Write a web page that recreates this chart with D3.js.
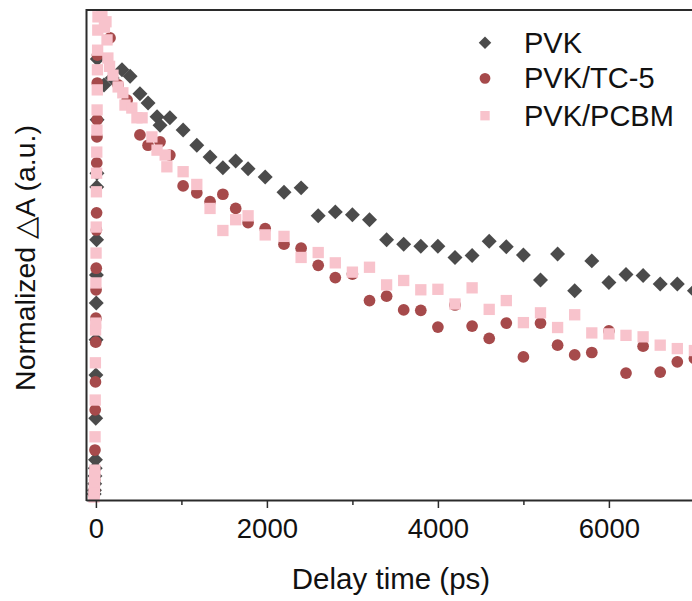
<!DOCTYPE html>
<html>
<head>
<meta charset="utf-8">
<script src="https://cdn.jsdelivr.net/npm/d3@7"></script>
<style>
  html, body { margin: 0; padding: 0; background: #fff; }
  svg { display: block; font-family: "Liberation Sans", Arial, sans-serif; }
</style>
</head>
<body>
<svg id="chart" width="692" height="601"></svg>
<script>
// ---- data ----
const seriesNames = ["PVK", "PVK/TC-5", "PVK/PCBM"];
const xTicks = [0, 2000, 4000, 6000];
const xMinorTicks = [1000, 3000, 5000];

const pvkTime = [-20,-17,-14,-11,-8,-5,-2,0,2,4,6,8,10,12,14,16,
  95,190,305,400,515,610,715,750,865,1020,1180,1335,1485,1635,1780,1980,
  2200,2400,2600,2800,3000,3200,3400,3600,3800,4000,4200,4400,4600,4800,5000,
  5200,5400,5600,5800,6000,6200,6400,6600,6800,7000];
const pvkValue = [0.012,0.020,0.033,0.049,0.065,0.082,0.167,0.255,0.327,0.402,0.459,0.531,0.639,0.667,0.776,0.900,
  0.847,0.861,0.878,0.865,0.829,0.810,0.782,0.765,0.780,0.755,0.724,0.700,0.678,0.692,0.676,0.659,
  0.628,0.637,0.580,0.588,0.582,0.572,0.531,0.522,0.518,0.518,0.495,0.499,0.528,0.517,0.500,
  0.449,0.502,0.427,0.488,0.444,0.460,0.458,0.441,0.441,0.427];

const tc5Time = [-20,-17,-14,-11,-8,-5,-2,0,2,4,6,8,10,12,14,16,18,
  165,260,365,515,610,750,865,1020,1180,1335,1485,1635,1780,1980,
  2200,2400,2600,2800,3000,3200,3400,3600,3800,4000,4200,4400,4600,4800,5000,
  5200,5400,5600,5800,6000,6200,6400,6600,6800,7000];
const tc5Value = [0.010,0.020,0.041,0.102,0.184,0.241,0.322,0.371,0.429,0.473,0.551,0.586,0.688,0.741,0.776,0.851,0.908,
  0.943,0.847,0.816,0.745,0.724,0.731,0.704,0.641,0.627,0.609,0.624,0.595,0.566,0.554,
  0.522,0.514,0.479,0.454,0.461,0.407,0.416,0.388,0.387,0.353,0.398,0.355,0.330,0.361,0.292,
  0.361,0.316,0.296,0.301,0.345,0.259,0.314,0.261,0.282,0.289];

const pcbmTime = [-22,-20,-18,-16,-14,-12,-10,-8,-6,-4,-2,0,2,4,6,8,10,12,14,16,18,20,22,24,
  70,100,118,130,140,160,200,260,315,340,420,480,540,655,715,810,830,1020,1180,1335,1485,1635,1780,1980,
  2200,2400,2600,2800,3000,3200,3400,3600,3800,4000,4200,4400,4600,4800,5000,
  5200,5400,5600,5800,6000,6200,6400,6600,6800,7000];
const pcbmValue = [0.006,0.014,0.024,0.037,0.051,0.061,0.129,0.204,0.280,0.347,0.361,0.443,0.504,0.557,0.629,0.667,0.710,0.755,0.796,0.837,0.878,0.918,0.959,0.986,
  0.990,0.965,0.976,0.939,0.902,0.885,0.867,0.843,0.831,0.806,0.800,0.780,0.780,0.741,0.714,0.704,0.680,0.670,0.644,0.595,0.550,0.572,0.580,0.541,
  0.538,0.495,0.505,0.484,0.465,0.475,0.439,0.448,0.429,0.430,0.400,0.433,0.389,0.407,0.362,
  0.382,0.352,0.378,0.341,0.339,0.336,0.333,0.316,0.309,0.305];

// ---- layout ----
const svg = d3.select("#chart");
const mLeft = 86.5, mRight = 694.4, mTop = 10, mBottom = 500;
const x = d3.scaleLinear().domain([-110, 7000]).range([mLeft, mRight]);
const y = d3.scaleLinear().domain([0, 1]).range([mBottom, mTop]);

const colors = ["#4b4b4b", "#a64a4b", "#f8c3cc"];
const sym = [
  { type: d3.symbolSquare, size: 112, rot: 45 },
  { type: d3.symbolCircle, size: 108, rot: 0 },
  { type: d3.symbolSquare, size: 128, rot: 0 }
];
const data = [
  pvkTime.map((t, i) => ({ t, v: pvkValue[i] })),
  tc5Time.map((t, i) => ({ t, v: tc5Value[i] })),
  pcbmTime.map((t, i) => ({ t, v: pcbmValue[i] }))
];

data.forEach((ser, k) => {
  const path = d3.symbol().type(sym[k].type).size(sym[k].size)();
  svg.append("g").selectAll("path").data(ser).join("path")
    .attr("d", path)
    .attr("fill", colors[k])
    .attr("transform", d => `translate(${x(d.t)},${y(d.v)}) rotate(${sym[k].rot})`);
});

// ---- axes / frame ----
const axisColor = "#2b2b2b";
svg.append("line").attr("x1", mLeft).attr("x2", 700).attr("y1", mTop).attr("y2", mTop)
  .attr("stroke", axisColor).attr("stroke-width", 2);
svg.append("line").attr("x1", mLeft).attr("x2", mLeft).attr("y1", mTop - 1).attr("y2", mBottom + 1)
  .attr("stroke", axisColor).attr("stroke-width", 2);

const xAxis = d3.axisBottom(x).tickValues(xTicks).tickSize(8).tickPadding(10).tickFormat(d3.format("d"));
const gx = svg.append("g").attr("transform", `translate(0,${mBottom})`).call(xAxis);
gx.select(".domain").attr("stroke", axisColor).attr("stroke-width", 2)
  .attr("d", `M${mLeft},0.5H700`);
gx.selectAll(".tick line").attr("stroke", axisColor).attr("stroke-width", 1.5);
gx.selectAll(".tick text").attr("font-size", 27.5).attr("fill", "#111")
  .attr("font-family", "Liberation Sans, Arial, sans-serif");
const gxm = svg.append("g").attr("transform", `translate(0,${mBottom})`)
  .call(d3.axisBottom(x).tickValues(xMinorTicks).tickSize(5).tickFormat(""));
gxm.select(".domain").remove();
gxm.selectAll(".tick line").attr("stroke", axisColor).attr("stroke-width", 1.5);

// ---- titles ----
svg.append("text").attr("x", 391).attr("y", 589).attr("text-anchor", "middle")
  .attr("font-size", 29.5).attr("fill", "#111").text("Delay time (ps)");
svg.append("text").attr("transform", "translate(35,258) rotate(-90)")
  .attr("text-anchor", "middle").attr("font-size", 28.5).attr("fill", "#111")
  .text("Normalized \u25B3A (a.u.)");

// ---- legend ----
const legY = [42.7, 78.3, 115.7];
const legSym = [
  { type: d3.symbolSquare, size: 78, rot: 45 },
  { type: d3.symbolCircle, size: 92, rot: 0 },
  { type: d3.symbolSquare, size: 88, rot: 0 }
];
seriesNames.forEach((name, k) => {
  svg.append("path").attr("d", d3.symbol().type(legSym[k].type).size(legSym[k].size)())
    .attr("fill", colors[k])
    .attr("transform", `translate(485,${legY[k]}) rotate(${legSym[k].rot})`);
  svg.append("text").attr("x", 524).attr("y", legY[k] + 10)
    .attr("font-size", 29).attr("fill", "#111").text(name);
});
</script>
</body>
</html>
